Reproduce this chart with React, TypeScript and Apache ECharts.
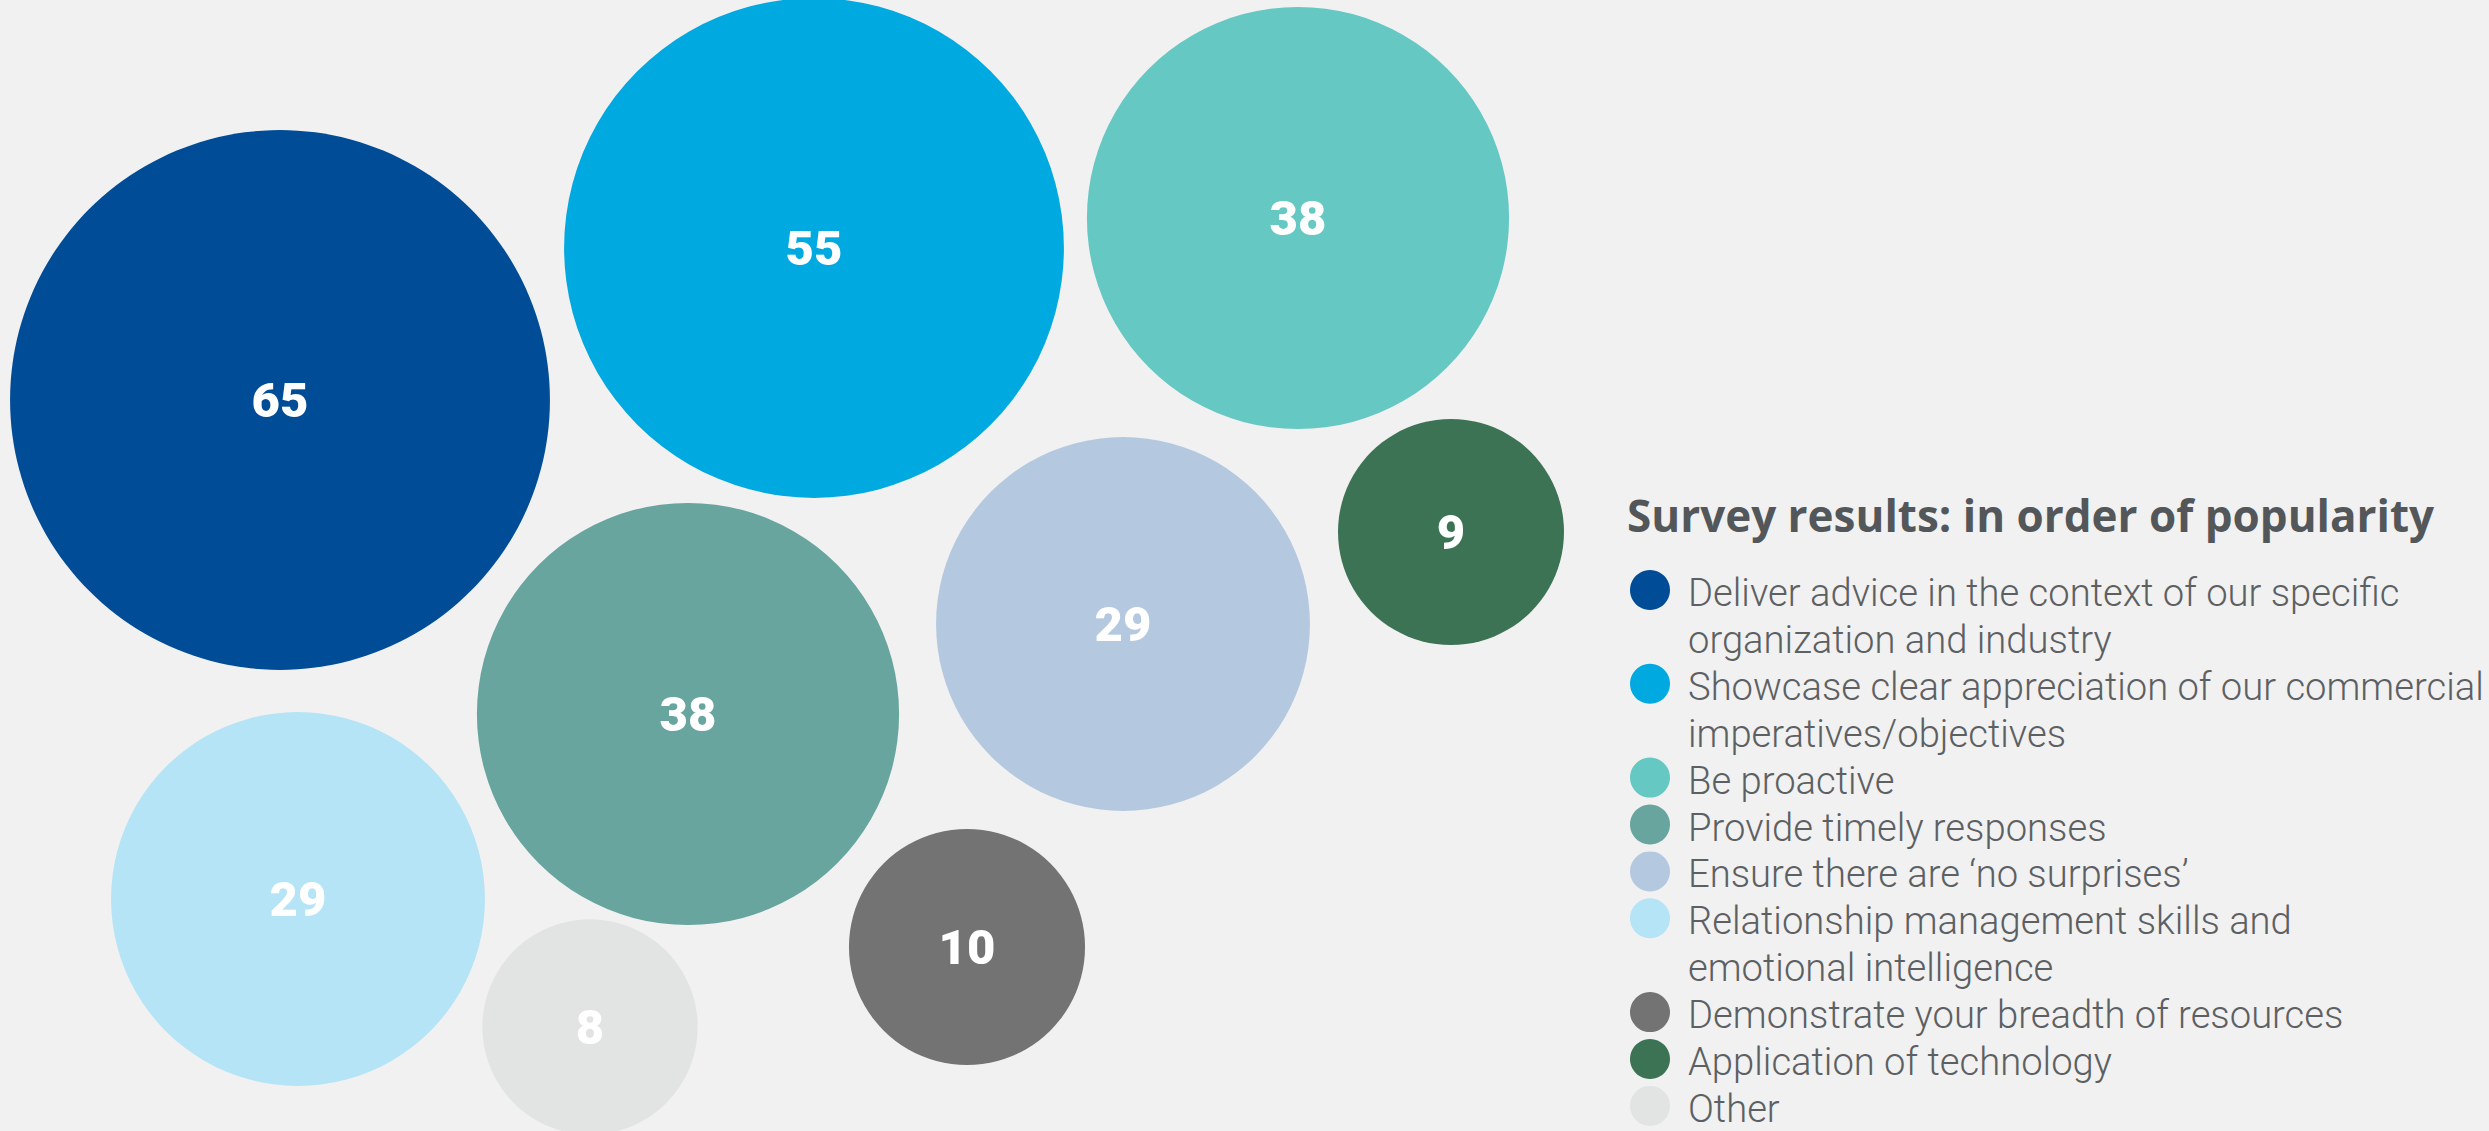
import React, { useEffect, useRef } from "react";
import * as echarts from "echarts";

// ---- data ----
const categories: string[] = [
  "Deliver advice in the context of our specific\norganization and industry",
  "Showcase clear appreciation of our commercial\nimperatives/objectives",
  "Be proactive",
  "Provide timely responses",
  "Ensure there are \u2018no surprises\u2019",
  "Relationship management skills and\nemotional intelligence",
  "Demonstrate your breadth of resources",
  "Application of technology",
  "Other",
];
const values: number[] = [65, 55, 38, 38, 29, 29, 10, 9, 8];
// packed-layout positions of each bubble (layout units)
const layoutX: number[] = [280, 814, 1298, 688, 1123, 298, 967, 1451, 590];
const layoutY: number[] = [400, 248, 218, 714, 624, 899, 947, 532, 1027];
const title = "Survey results: in order of popularity";

// ---- styles ----
const palette = [
  "#004C97",
  "#00A9E0",
  "#66C8C3",
  "#67A59E",
  "#B4C9E0",
  "#B4E4F5",
  "#727372",
  "#3C7354",
  "#E2E4E3",
];
const W = 2489;
const H = 1131;

export default function App() {
  const ref = useRef<HTMLDivElement>(null);
  useEffect(() => {
    if (!ref.current) return;
    const chart = echarts.init(ref.current, undefined, { renderer: "svg" });

    const data = values.map((v, i) => ({
      name: categories[i].replace("\n", " "),
      value: [layoutX[i], layoutY[i], v],
      itemStyle: { color: palette[i], opacity: 1 },
    }));

    // legend built from categories
    const legendX = 1650;
    const textX = 1688;
    const firstLineY = 593;
    const lineH = 46.9;
    const graphics: any[] = [
      {
        type: "text",
        x: 1627,
        y: 515,
        style: {
          text: title,
          fill: "#53575A",
          fontFamily: "Open Sans",
          fontWeight: "bold",
          fontSize: 44,
          textVerticalAlign: "middle",
        },
      },
    ];
    let line = 0;
    categories.forEach((c, i) => {
      const lines = c.split("\n");
      const y0 = firstLineY + line * lineH;
      graphics.push({
        type: "circle",
        shape: { cx: legendX, cy: y0 - 3, r: 20 },
        style: { fill: palette[i] },
      });
      lines.forEach((t, k) => {
        graphics.push({
          type: "text",
          x: textX,
          y: y0 + k * lineH,
          style: {
            text: t,
            fill: "#5C6063",
            fontFamily: "Roboto",
            fontWeight: 300,
            fontSize: 38.2,
            textVerticalAlign: "middle",
          },
        });
      });
      line += lines.length;
    });

    chart.setOption({
      animation: false,
      backgroundColor: "#F1F1F1",
      grid: { left: 0, right: 0, top: 0, bottom: 0 },
      xAxis: { type: "value", min: 0, max: W, show: false },
      yAxis: { type: "value", min: 0, max: H, inverse: true, show: false },
      series: [
        {
          type: "scatter",
          data,
          symbol: "circle",
          symbolSize: (v: number[]) => 62 * Math.sqrt(v[2]) + 40,
          itemStyle: { opacity: 1 },
          label: {
            show: true,
            position: "inside",
            formatter: (p: any) => String(p.value[2]),
            color: "#FFFFFF",
            fontFamily: "Roboto",
            fontWeight: 900,
            fontSize: 49,
          },
          emphasis: { disabled: true },
        },
      ],
      graphic: graphics,
    });
    return () => chart.dispose();
  }, []);
  return (
    <div
      ref={ref}
      style={{ position: "fixed", left: 0, top: 0, width: "100vw", height: "100vh" }}
    />
  );
}
